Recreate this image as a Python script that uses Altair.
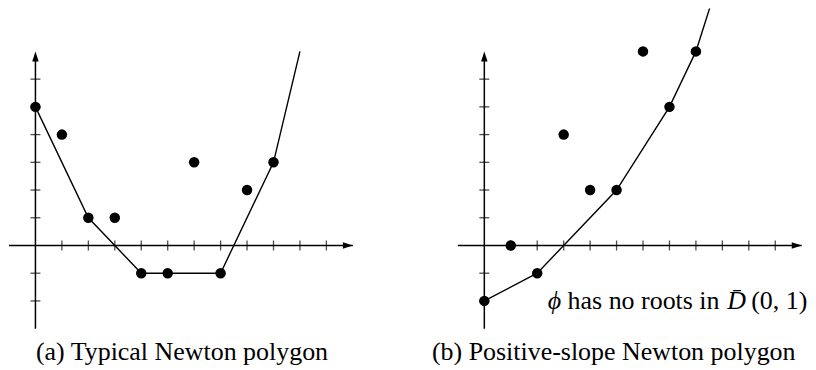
import altair as alt
import pandas as pd

# ---- data ----
A_POINTS_X = [0, 1, 2, 3, 4, 5, 6, 7, 8, 9]
A_POINTS_Y = [5, 4, 1, 1, -1, -1, 3, -1, 2, 3]
A_POLY_X = [0, 2, 4, 7, 9, 10]
A_POLY_Y = [5, 1, -1, -1, 3, 7]

B_POINTS_X = [0, 1, 2, 3, 4, 5, 6, 7, 8]
B_POINTS_Y = [-2, 0, -1, 4, 2, 2, 7, 5, 7]
B_POLY_X = [0, 2, 5, 7, 8, 9]
B_POLY_Y = [-2, -1, 2, 5, 7, 10]

X_TICKS = [1, 2, 3, 4, 5, 6, 7, 8, 9, 10, 11]
Y_TICKS = [-2, -1, 1, 2, 3, 4, 5, 6]
X_AXIS = [-1, 12]
Y_AXIS = [-3, 7]

CAPTIONS = ["(a) Typical Newton polygon", "(b) Positive-slope Newton polygon"]
NOTE_PARTS = ["\u03d5", "has no roots in", "D\u0304", "(0, 1)"]
NOTE_ITALIC = [True, False, True, False]

# ---- styling ----
FONT = "Liberation Serif"
W, H = 350, 321
XS = alt.Scale(domain=[-1, 12.2], nice=False, zero=False)
YS = alt.Scale(domain=[-3, 8.55], nice=False, zero=False)
ARROW_RIGHT = "M0,0 L-2,-0.65 L-2,0.65 Z"
ARROW_UP = "M0,0 L-0.65,2 L0.65,2 Z"


def X(f="x"):
    return alt.X(f"{f}:Q", scale=XS, axis=None)


def Y(f="y"):
    return alt.Y(f"{f}:Q", scale=YS, axis=None)


def label(text, x, y, italic=False):
    kw = dict(align="left", baseline="alphabetic", font=FONT, fontSize=26, color="black")
    if italic:
        kw["fontStyle"] = "italic"
    return alt.Chart(pd.DataFrame({"t": [text]})).mark_text(**kw).encode(
        x=alt.value(x), y=alt.value(y), text="t:N")


def panel(px, py, lx, ly, caption, cap_x, clip_line, extras=()):
    axes = pd.DataFrame({
        "x": [X_AXIS[0], 0], "x2": [X_AXIS[1], 0],
        "y": [0, Y_AXIS[0]], "y2": [0, Y_AXIS[1] - 0.2],
    })
    rules = alt.Chart(axes).mark_rule(color="black", strokeWidth=1.5).encode(
        x=X(), x2="x2:Q", y=Y(), y2="y2:Q")
    xt = alt.Chart(pd.DataFrame({"x": X_TICKS, "y": [0] * len(X_TICKS)})).mark_tick(
        orient="vertical", size=10, thickness=1.3, color="black").encode(x=X(), y=Y())
    yt = alt.Chart(pd.DataFrame({"y": Y_TICKS, "x": [0] * len(Y_TICKS)})).mark_tick(
        orient="horizontal", size=10, thickness=1.3, color="black").encode(x=X(), y=Y())
    arr_x = alt.Chart(pd.DataFrame({"x": [X_AXIS[1]], "y": [0]})).mark_point(
        shape=ARROW_RIGHT, size=100, filled=True, color="black", opacity=1).encode(x=X(), y=Y())
    arr_y = alt.Chart(pd.DataFrame({"x": [0], "y": [Y_AXIS[1]]})).mark_point(
        shape=ARROW_UP, size=100, filled=True, color="black", opacity=1).encode(x=X(), y=Y())
    line = alt.Chart(pd.DataFrame({"x": lx, "y": ly})).mark_line(
        color="black", strokeWidth=1.4, clip=clip_line).encode(x=X(), y=Y())
    pts = alt.Chart(pd.DataFrame({"x": px, "y": py})).mark_circle(
        size=110, color="black", opacity=1).encode(x=X(), y=Y())
    cap = label(caption, cap_x, 352)
    return alt.layer(rules, xt, yt, arr_x, arr_y, line, pts, cap, *extras).properties(
        width=W, height=H)


note_x = [90, 110, 270, 294]
note = [label(t, x, 301.5, it) for t, x, it in zip(NOTE_PARTS, note_x, NOTE_ITALIC)]

a = panel(A_POINTS_X, A_POINTS_Y, A_POLY_X, A_POLY_Y, CAPTIONS[0], 27, False)
b = panel(B_POINTS_X, B_POINTS_Y, B_POLY_X, B_POLY_Y, CAPTIONS[1], -26, True, note)

chart = alt.hconcat(a, b, spacing=100, bounds="flush").properties(
    padding=0).configure_view(stroke=None)

chart.save("out.html", embed_options={"renderer": "svg", "actions": False})
